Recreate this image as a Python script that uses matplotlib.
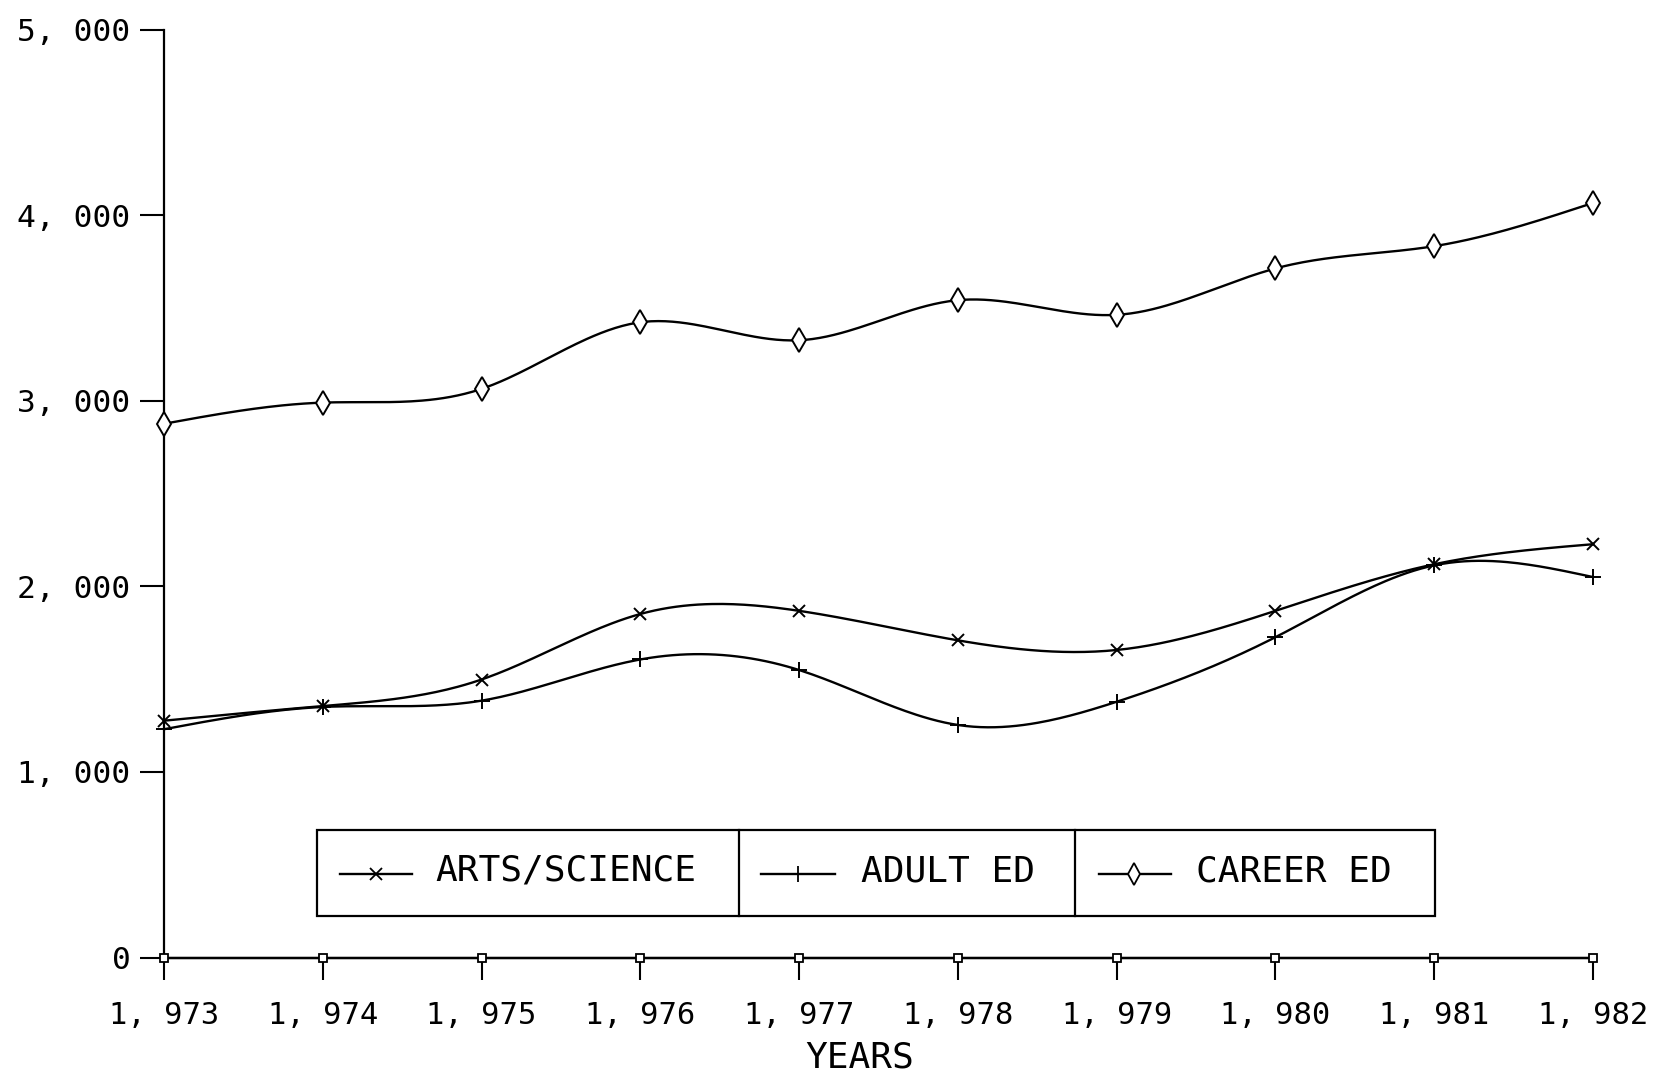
import numpy as np
import matplotlib
matplotlib.use("Agg")
import matplotlib.pyplot as plt
from matplotlib.lines import Line2D
from matplotlib.patches import Rectangle

years = [1973, 1974, 1975, 1976, 1977, 1978, 1979, 1980, 1981, 1982]
arts_science = [1276, 1355, 1498, 1851, 1868, 1709, 1657, 1868, 2119, 2227]
adult_ed = [1230, 1350, 1384, 1606, 1549, 1253, 1378, 1726, 2113, 2050]
career_ed = [2876, 2990, 3064, 3423, 3326, 3542, 3463, 3713, 3833, 4066]
other = [0, 0, 0, 0, 0, 0, 0, 0, 0, 0]
y_ticks = [0, 1000, 2000, 3000, 4000, 5000]
y_tick_labels = ["0", "1, 000", "2, 000", "3, 000", "4, 000", "5, 000"]
x_tick_labels = ["1, 973", "1, 974", "1, 975", "1, 976", "1, 977",
                 "1, 978", "1, 979", "1, 980", "1, 981", "1, 982"]
legend_labels = ["ARTS/SCIENCE", "ADULT ED", "CAREER ED"]

FONT = "DejaVu Sans Mono"
W, H = 1657, 1079


def natural_spline(x, y, n=400):
    x = np.asarray(x, float)
    y = np.asarray(y, float)
    k = len(x)
    h = np.diff(x)
    A = np.zeros((k, k))
    b = np.zeros(k)
    A[0, 0] = 1
    A[-1, -1] = 1
    for i in range(1, k - 1):
        A[i, i - 1] = h[i - 1]
        A[i, i] = 2 * (h[i - 1] + h[i])
        A[i, i + 1] = h[i]
        b[i] = 3 * ((y[i + 1] - y[i]) / h[i] - (y[i] - y[i - 1]) / h[i - 1])
    c = np.linalg.solve(A, b)
    xs = np.linspace(x[0], x[-1], n)
    idx = np.clip(np.searchsorted(x, xs) - 1, 0, k - 2)
    dx = xs - x[idx]
    bb = (y[idx + 1] - y[idx]) / h[idx] - h[idx] * (2 * c[idx] + c[idx + 1]) / 3
    dd = (c[idx + 1] - c[idx]) / (3 * h[idx])
    ys = y[idx] + bb * dx + c[idx] * dx ** 2 + dd * dx ** 3
    return xs, ys


fig = plt.figure(figsize=(W / 100, H / 100), dpi=100)
fig.patch.set_facecolor("white")
ax = fig.add_axes([164 / W, 1 - 957.5 / H, (1593 - 164) / W, (957.5 - 29.6) / H])

lw = 1.7
series = [
    (arts_science, dict(marker="x", markersize=9, markeredgewidth=1.4)),
    (adult_ed, dict(marker="+", markersize=12, markeredgewidth=1.4)),
    (career_ed, dict(marker="d", markersize=12, markeredgewidth=1.4,
                     markerfacecolor="white")),
]
for vals, mk in series:
    xs, ys = natural_spline(years, vals)
    ax.plot(xs, ys, color="black", lw=lw, clip_on=False)
    ax.plot(years, vals, linestyle="none", color="black", clip_on=False, zorder=3, **mk)

ax.plot(years, other, color="black", lw=lw, marker="s", markersize=6,
        markerfacecolor="white", markeredgewidth=1.3, clip_on=False, zorder=3)

ax.set_xlim(1973, 1982)
ax.set_ylim(0, 5000)
ax.set_xticks(years)
ax.set_xticklabels(x_tick_labels, fontsize=22, family=FONT)
ax.set_yticks(y_ticks)
ax.set_yticklabels(y_tick_labels, fontsize=22.5, family=FONT)
ax.tick_params(axis="x", direction="out", length=16, width=1.5, pad=15)
ax.tick_params(axis="y", direction="out", length=17, width=1.5, pad=7)
for s in ["top", "right"]:
    ax.spines[s].set_visible(False)
for s in ["left", "bottom"]:
    ax.spines[s].set_linewidth(1.6)
ax.set_facecolor("white")

fig.text(860 / W, 1 - 1058 / H, "YEARS", fontsize=26, family=FONT,
         ha="center", va="center")

# legend box with cells
fx = lambda px: px / W
fy = lambda py: 1 - py / H
x0, x1, yt, yb = 317, 1435, 830, 916
fig.add_artist(Rectangle((fx(x0), fy(yb)), fx(x1) - fx(x0), fy(yt) - fy(yb),
                         transform=fig.transFigure, fill=False, lw=1.6, ec="black"))
for dvx in [739, 1075]:
    fig.add_artist(Line2D([fx(dvx), fx(dvx)], [fy(yt), fy(yb)],
                          transform=fig.transFigure, color="black", lw=1.6))

cells = [
    (340, 412, 376, 435, dict(marker="x", markersize=8, markeredgewidth=1.3)),
    (761, 835, 798, 861, dict(marker="+", markersize=11, markeredgewidth=1.3)),
    (1099, 1171, 1134, 1196, dict(marker="d", markersize=11, markeredgewidth=1.3,
                                  markerfacecolor="white")),
]
ly = 874
for (l0, l1, m, tx, mk), lab in zip(cells, legend_labels):
    fig.add_artist(Line2D([fx(l0), fx(l1)], [fy(ly), fy(ly)],
                          transform=fig.transFigure, color="black", lw=lw))
    fig.add_artist(Line2D([fx(m)], [fy(ly)], transform=fig.transFigure,
                          color="black", linestyle="none", **mk))
    fig.text(fx(tx), fy(871), lab, fontsize=26, family=FONT, ha="left", va="center")

fig.savefig("out.png", dpi=100, facecolor="white")
